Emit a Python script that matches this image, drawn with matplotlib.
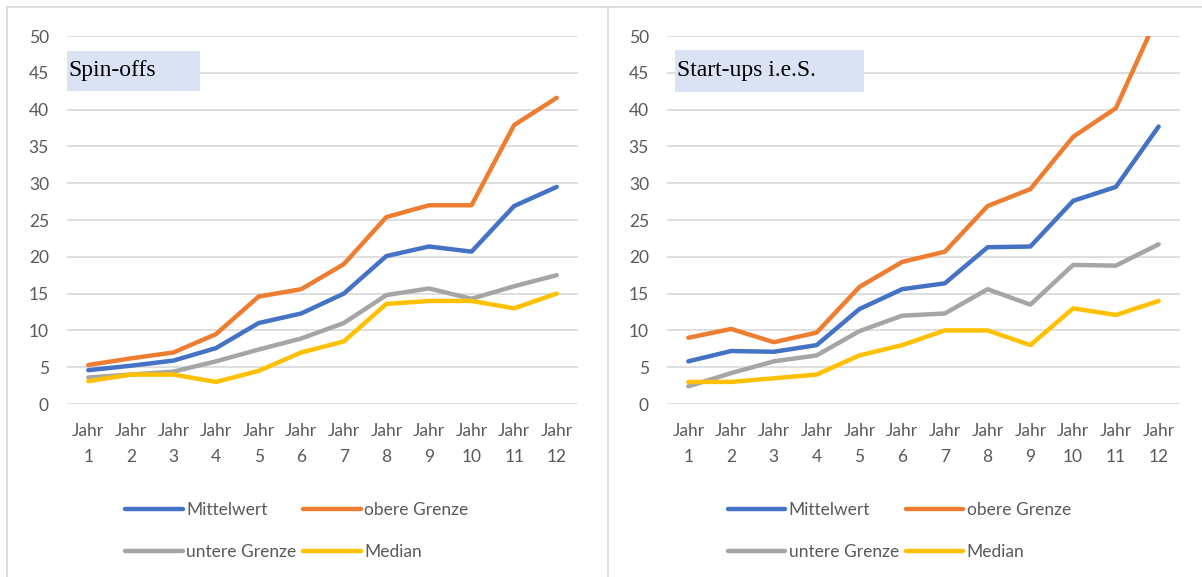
import matplotlib.pyplot as plt
from matplotlib.patches import Rectangle
from matplotlib.lines import Line2D

# Daten
jahre = ['Jahr\n%d' % i for i in range(1, 13)]
serien = ['Mittelwert', 'obere Grenze', 'untere Grenze', 'Median']
farben = ['#4472C4', '#ED7D31', '#A5A5A5', '#FFC000']

spin_mittel = [4.6, 5.2, 5.9, 7.6, 11.0, 12.3, 15.0, 20.1, 21.4, 20.7, 26.9, 29.5]
spin_oben = [5.3, 6.2, 7.0, 9.5, 14.6, 15.6, 19.0, 25.4, 27.0, 27.0, 37.9, 41.6]
spin_unten = [3.6, 4.0, 4.4, 5.8, 7.4, 8.9, 11.0, 14.8, 15.7, 14.3, 16.0, 17.5]
spin_median = [3.1, 4.0, 4.0, 3.0, 4.5, 7.0, 8.5, 13.6, 14.0, 14.0, 13.0, 15.0]

start_mittel = [5.8, 7.2, 7.1, 8.0, 12.9, 15.6, 16.4, 21.3, 21.4, 27.6, 29.5, 37.7]
start_oben = [9.0, 10.2, 8.4, 9.7, 15.9, 19.3, 20.7, 26.9, 29.2, 36.3, 40.2, 53.0]
start_unten = [2.4, 4.2, 5.8, 6.6, 9.9, 12.0, 12.3, 15.6, 13.5, 18.9, 18.8, 21.7]
start_median = [3.0, 3.0, 3.5, 4.0, 6.6, 8.0, 10.0, 10.0, 8.0, 13.0, 12.1, 14.0]

grau_text = '#595959'
tick_font = 'Lato'

fig = plt.figure(figsize=(12.02, 5.77), dpi=100)

# Rahmen der beiden Diagrammfelder
W, H = 1202, 577
rahmen = '#D9D9D9'
fig.add_artist(Line2D([7 / W, 1], [1 - 7 / H, 1 - 7 / H], color=rahmen, lw=1.2))
fig.add_artist(Line2D([7 / W, 7 / W], [0, 1 - 7 / H], color=rahmen, lw=1.2))
fig.add_artist(Line2D([608 / W, 608 / W], [0, 1 - 7 / H], color=rahmen, lw=1.2))

panels = [
    ([67 / W, 0.2998, 511 / W, 0.6378], 'Spin-offs',
     [spin_mittel, spin_oben, spin_unten, spin_median], (0.0, 0.851, 0.26, 0.108), 0.45),
    ([667 / W, 0.2998, 513 / W, 0.6378], 'Start-ups i.e.S.',
     [start_mittel, start_oben, start_unten, start_median], (0.0156, 0.848, 0.368, 0.114), 0.453),
]

x = list(range(1, 13))
for pos, titel, daten, box, leg_x in panels:
    ax = fig.add_axes(pos)
    linien = []
    for name, werte, farbe in zip(serien, daten, farben):
        l, = ax.plot(x, werte, color=farbe, lw=3.2, label=name,
                     solid_joinstyle='round', solid_capstyle='round')
        linien.append(l)
    ax.set_xlim(0.5, 12.5)
    ax.set_ylim(0, 50)
    ax.set_yticks(range(0, 51, 5))
    ax.set_xticks(x)
    ax.set_xticklabels(jahre, linespacing=1.75)
    ax.grid(axis='y', color='#D9D9D9', lw=1.2)
    ax.set_axisbelow(True)
    for s in ax.spines.values():
        s.set_visible(False)
    ax.tick_params(axis='both', length=0, labelsize=12.5, labelcolor=grau_text)
    ax.tick_params(axis='y', pad=13)
    ax.tick_params(axis='x', pad=14)
    for lab in ax.get_xticklabels() + ax.get_yticklabels():
        lab.set_fontfamily(tick_font)

    # Titelkasten
    ax.add_patch(Rectangle((box[0], box[1]), box[2], box[3], transform=ax.transAxes,
                           facecolor='#DAE3F3', edgecolor='none', clip_on=False, zorder=1))
    ax.text(box[0] + 0.003, 0.907, titel, transform=ax.transAxes, va='center', ha='left',
            fontsize=17, family='Liberation Serif', color='black', zorder=2)

    # Legende zeilenweise: Mittelwert, obere Grenze / untere Grenze, Median
    reihenfolge = [0, 2, 1, 3]
    leg = ax.legend([linien[i] for i in reihenfolge], [serien[i] for i in reihenfolge],
                    loc='center', bbox_to_anchor=(leg_x, -0.345), ncol=2, frameon=False,
                    handlelength=3.3, handletextpad=0.2, columnspacing=0.4,
                    labelspacing=1.5, prop={'family': tick_font, 'size': 12.5})
    for t in leg.get_texts():
        t.set_color(grau_text)

fig.savefig('out.png', dpi=100)
